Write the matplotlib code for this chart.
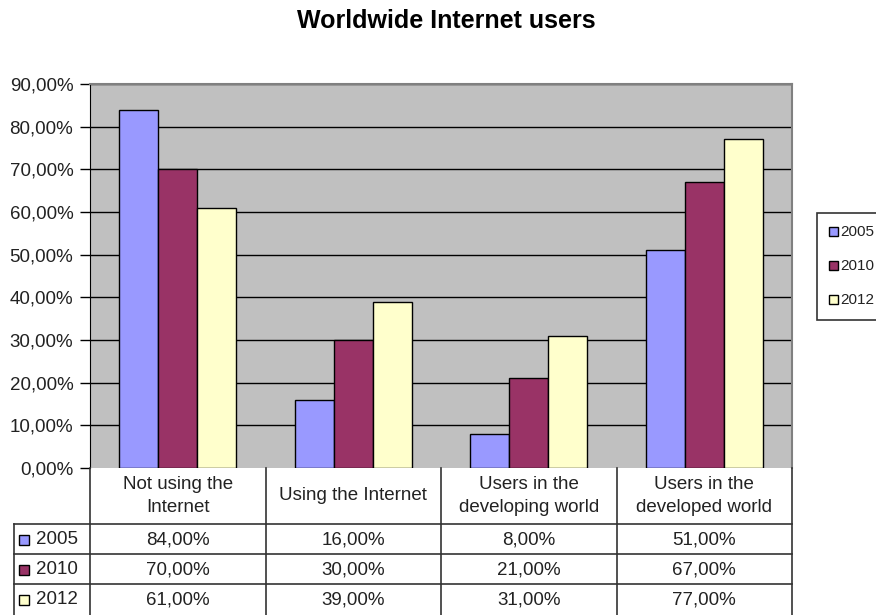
import numpy as np
import matplotlib.pyplot as plt
from matplotlib.patches import Rectangle

plt.rcParams['font.family'] = ['Liberation Sans', 'DejaVu Sans']

# Данные
categories = ['Not using the\nInternet', 'Using the Internet',
              'Users in the\ndeveloping world', 'Users in the\ndeveloped world']
years = ['2005', '2010', '2012']
v2005 = [84, 16, 8, 51]
v2010 = [70, 30, 21, 67]
v2012 = [61, 39, 31, 77]
series = [v2005, v2010, v2012]
colors = ['#9999FF', '#993366', '#FFFFCC']
yticks = [0, 10, 20, 30, 40, 50, 60, 70, 80, 90]

W, H = 876, 615
fig = plt.figure(figsize=(W / 100, H / 100), dpi=100)

def fx(px):
    return px / W

def fy(py):
    return 1 - py / H

# Область графика
x0, x1, ytop, ybot = 90, 792, 84, 468
ax = fig.add_axes([fx(x0), fy(ybot), fx(x1) - fx(x0), fy(ytop) - fy(ybot)])
ax.set_facecolor('#C0C0C0')
ax.set_xlim(-0.5, len(categories) - 0.5)
ax.set_ylim(0, 90)

w = 0.222
x = np.arange(len(categories))
for j, vals in enumerate(series):
    ax.bar(x + (j - 1) * w, vals, width=w, color=colors[j],
           edgecolor='black', linewidth=1, zorder=3)

ax.set_yticks(yticks)
ax.set_yticklabels(['%d,00%%' % t for t in yticks], fontsize=13.5, color='#222222')
ax.tick_params(axis='y', length=7, width=1, color='black', pad=5)
ax.set_xticks([])
for t in yticks[1:]:
    ax.axhline(t, color='black', linewidth=1, zorder=1)
for s in ['top', 'right']:
    ax.spines[s].set_color('#808080')
    ax.spines[s].set_linewidth(1.5)
ax.spines['left'].set_color('black')
ax.spines['bottom'].set_visible(False)

# Таблица данных
tab_left = 14
cw = (x1 - x0) / len(categories)
tab = fig.add_axes([fx(tab_left), 0, fx(x1) - fx(tab_left), fy(ybot)])
tab.set_xlim(-0.5 - (x0 - tab_left) / cw, len(categories) - 0.5)
tab.set_ylim(H - ybot, 0)
tab.axis('off')

lc = '#333333'
row_y = [0, 56, 86, 116, 146]
# вертикальные линии
for k in range(len(categories) + 1):
    tab.plot([k - 0.5, k - 0.5], [0, 147], color=lc, lw=1.2, clip_on=False)
lx = -0.5 - (x0 - tab_left) / cw
tab.plot([lx, lx], [56, 147], color=lc, lw=1.2, clip_on=False)
for yy in row_y[1:4]:
    tab.plot([lx, len(categories) - 0.5], [yy, yy], color=lc, lw=1.2, clip_on=False)

for i, c in enumerate(categories):
    tab.text(i, 28, c, ha='center', va='center', fontsize=13.5,
             color='#222222', linespacing=1.45)
for j, vals in enumerate(series):
    yc = (row_y[j + 1] + row_y[j + 2]) / 2
    for i, v in enumerate(vals):
        tab.text(i, yc + 1, '%d,00%%' % v, ha='center', va='center',
                 fontsize=13.5, color='#222222')
    # подпись ряда
    sq = 10 / cw
    tab.add_patch(Rectangle((lx + 5 / cw, yc - 4), sq, 10, facecolor=colors[j],
                            edgecolor='black', lw=1, clip_on=False))
    tab.text(lx + 22 / cw, yc + 1, years[j], ha='left', va='center',
             fontsize=13.5, color='#222222')

# Легенда
leg = fig.add_axes([0, 0, 1, 1], facecolor='none')
leg.set_xlim(0, W)
leg.set_ylim(H, 0)
leg.axis('off')
leg.add_patch(Rectangle((817, 213), 80, 107, facecolor='white',
                        edgecolor='#333333', lw=1.2, clip_on=False))
for j, yr in enumerate(years):
    yc = 231 + 34 * j
    leg.add_patch(Rectangle((829, yc - 4), 9, 9, facecolor=colors[j],
                            edgecolor='black', lw=1))
    leg.text(840, yc + 1, yr, ha='left', va='center', fontsize=11, color='#222222')

fig.suptitle('Worldwide Internet users', x=fx(446), y=fy(21), fontsize=18,
             fontweight='bold', va='center')

fig.savefig('out.png', dpi=100)
